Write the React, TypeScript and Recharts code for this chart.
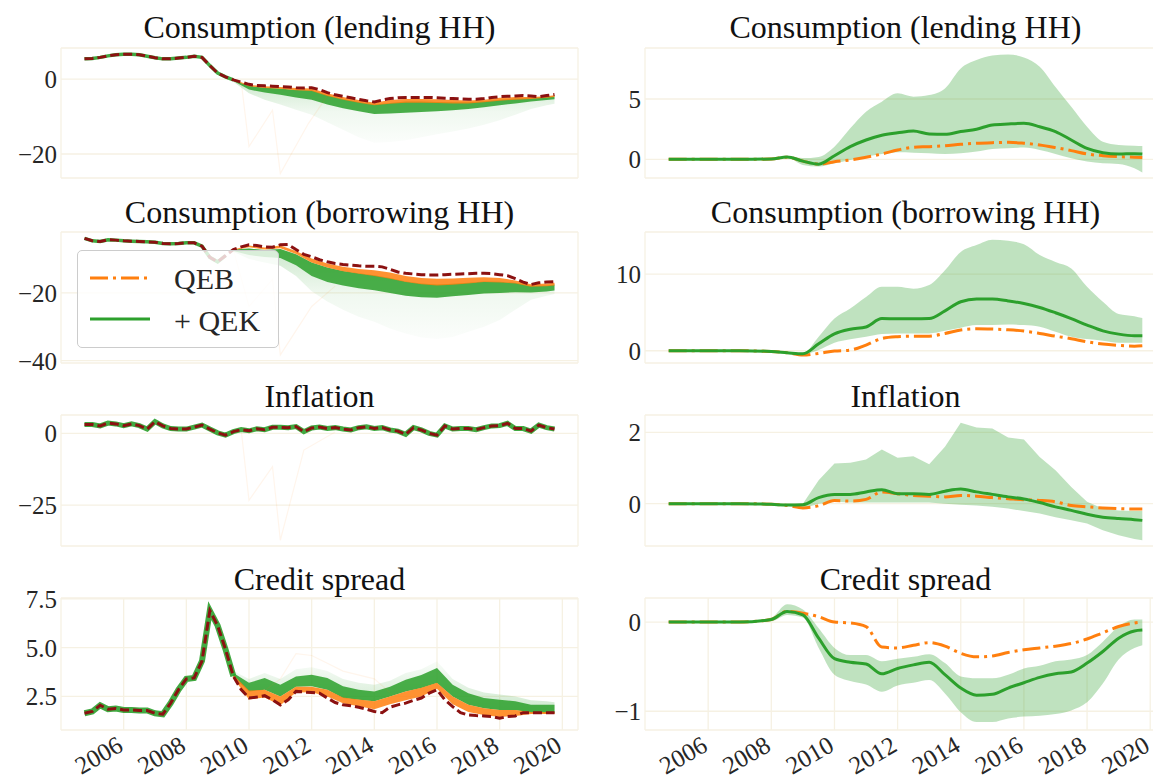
import React from "react"
import { ComposedChart, Line, Area, XAxis, YAxis, CartesianGrid } from "recharts"

const FONT = "'Liberation Serif', 'Times New Roman', serif"
const GREEN = "#2ca02c"
const ORANGE = "#ff7f0e"
const DARKRED = "#8b1111"
const GRID = "#f6f1e3"
const TEXT = "#262626"

// quarterly dates 2004Q4 .. 2019Q4
const quarters = Array.from({ length: 61 }, (_, i) => 2004.75 + i * 0.25)
const yearTicks = [2006, 2008, 2010, 2012, 2014, 2016, 2018, 2020]

// dates where the simulated fans spread out (left column)
const fanYears = [2009.5, 2010, 2010.5, 2011, 2011.5, 2012, 2012.5, 2013, 2013.5, 2014, 2014.5, 2015, 2015.5, 2016, 2016.5, 2017, 2017.5, 2018, 2018.5, 2019, 2019.5, 2019.75]

// dates for the right column (differences)
const rightYears = [2004.75, 2006, 2007, 2008, 2008.5, 2009, 2009.5, 2010, 2010.5, 2011, 2011.5, 2012, 2012.5, 2013, 2013.5, 2014, 2014.5, 2015, 2015.5, 2016, 2016.5, 2017, 2017.5, 2018, 2018.5, 2019, 2019.5, 2019.75]

// ---- left: consumption lending HH
const lendData = [
  5.4,
  5.5, 5.8, 6.2, 6.5,
  6.6, 6.6, 6.5, 6.1,
  5.7, 5.4, 5.4, 5.6,
  5.8, 6.1, 5.8, 3.6,
  1.6, 0.6, -0.2, -0.8,
  -1.4, -1.7, -1.8, -1.9,
  -2.0, -2.1, -2.3, -2.4,
  -2.3, -2.8, -3.6, -4.2,
  -4.6, -5.0, -5.4, -5.8,
  -6.1, -5.6, -5.2, -5.0,
  -4.9, -4.9, -4.9, -4.9,
  -5.0, -5.1, -5.2, -5.3,
  -5.4, -5.4, -5.2, -4.9,
  -4.7, -4.6, -4.5, -4.4,
  -4.5, -4.7, -4.4, -4.1,
]
const lendOrHi = [-0.2, -1.5, -1.9, -2.1, -2.4, -2.5, -3.8, -4.8, -5.6, -6.3, -5.6, -5.3, -5.3, -5.4, -5.6, -5.7, -5.5, -5.0, -4.8, -4.8, -4.6, -4.3]
const lendOrLo = [-0.3, -1.9, -2.4, -2.6, -3.0, -3.2, -4.5, -5.5, -6.3, -7.0, -6.6, -6.3, -6.3, -6.4, -6.5, -6.5, -6.2, -5.8, -5.5, -5.3, -5.0, -4.8]
const lendCoreHi = [-0.3, -1.8, -2.3, -2.5, -2.9, -3.0, -4.3, -5.3, -6.1, -6.8, -6.4, -6.0, -6.0, -6.1, -6.2, -6.2, -5.9, -5.5, -5.2, -5.1, -4.8, -4.6]
const lendCoreLo = [-0.5, -2.8, -3.6, -4.2, -4.9, -5.5, -6.8, -7.8, -8.6, -9.3, -9.2, -9.0, -8.8, -8.6, -8.3, -8.0, -7.5, -7.0, -6.5, -6.0, -5.6, -5.4]
const lendFaintLo = [-0.7, -3.8, -5.5, -6.8, -8.2, -9.5, -11.5, -13.5, -15.5, -17.0, -16.8, -16.3, -15.5, -14.7, -14.0, -13.2, -12.2, -11.0, -9.5, -8.0, -7.0, -6.6]
const lendOutYears = [2009.75, 2010, 2010.75, 2011, 2011.9, 2012.5]
const lendOut = [-0.6, -18, -8.3, -25.2, -11.8, -4.5]

// ---- left: consumption borrowing HH
const borData = [
  -3.9,
  -4.6, -4.8, -4.3, -4.4,
  -4.6, -4.7, -4.8, -4.9,
  -5.0, -5.4, -5.5, -5.4,
  -5.2, -5.2, -6.2, -9.5,
  -10.8, -9.0, -7.2, -6.4,
  -5.8, -6.0, -6.4, -6.5,
  -5.8, -5.7, -7.2, -8.6,
  -9.3, -10.2, -10.8, -11.3,
  -11.6, -11.8, -12.0, -12.1,
  -12.1, -12.3, -13.0, -13.8,
  -14.2, -14.4, -14.6, -14.7,
  -14.7, -14.6, -14.5, -14.4,
  -14.3, -14.2, -14.2, -14.3,
  -14.6, -14.9, -15.8, -16.8,
  -17.5, -17.0, -16.8, -16.7,
]
const borOrHi = [-7.2, -6.0, -6.6, -6.0, -7.6, -9.8, -11.3, -12.3, -12.9, -13.3, -14.0, -15.0, -15.6, -15.8, -15.7, -15.5, -15.4, -15.6, -16.3, -17.4, -17.2, -17.0]
const borOrLo = [-7.4, -6.5, -7.2, -6.8, -8.5, -11.0, -12.5, -13.6, -14.3, -15.0, -15.8, -16.8, -17.4, -17.8, -17.6, -17.2, -16.8, -16.9, -17.2, -18.2, -18.0, -17.8]
const borCoreHi = [-7.2, -6.9, -7.3, -7.0, -8.6, -11.0, -12.5, -13.5, -14.2, -14.8, -15.6, -16.6, -17.2, -17.5, -17.3, -17.0, -16.6, -16.7, -17.0, -17.9, -17.8, -17.5]
const borCoreLo = [-7.6, -8.8, -9.4, -9.7, -11.8, -15.0, -16.8, -17.8, -18.6, -19.2, -20.0, -20.8, -21.3, -21.4, -21.0, -20.6, -20.2, -20.0, -19.8, -19.9, -19.6, -19.3]
const borFaintLo = [-7.8, -10.0, -11.0, -12.0, -15.0, -19.5, -22.5, -25.0, -27.0, -28.5, -30.5, -32.0, -33.2, -33.6, -33.0, -31.5, -30.0, -28.0, -25.0, -22.0, -20.8, -20.3]
const borOutYears = [2009.5, 2010, 2010.75, 2011, 2012, 2012.75]
const borOut = [-7.2, -24, -16, -38.3, -24, -18]

// ---- left: inflation
const infData = [
  3.1,
  3.1, 2.6, 3.6, 3.3,
  2.7, 3.3, 2.7, 1.5,
  4.1, 2.6, 1.7, 1.5,
  1.5, 2.2, 2.9, 1.5,
  0.2, -0.6, 0.6, 1.3,
  0.9, 1.6, 1.3, 2.1,
  2.1, 2.0, 2.4, 0.6,
  1.9, 2.2, 1.7, 2.0,
  1.5, 1.2, 2.0, 2.3,
  1.7, 2.0, 1.2, 0.8,
  -0.3, 2.0, 1.2, 0.0,
  -0.6, 2.6, 1.5, 1.7,
  1.7, 1.3, 2.0, 2.6,
  2.7, 3.5, 1.7, 1.7,
  0.8, 2.9, 2.0, 1.5,
]
const infOutYears = [2009.75, 2010, 2010.75, 2011, 2011.75, 2012.75]
const infOut = [1.3, -23.3, -11.6, -37.2, -5.8, 0.5]

// ---- left: credit spread
const csData = [
  1.64,
  1.73, 2.05, 1.85, 1.88,
  1.81, 1.81, 1.78, 1.78,
  1.64, 1.59, 2.16, 2.85,
  3.4, 3.45, 4.32, 6.9,
  6.13, 4.92, 3.54, 2.85,
  2.42, 2.47, 2.54, 2.33,
  2.07, 2.33, 2.76, 2.73,
  2.7, 2.67, 2.42, 2.19,
  2.07, 2.02, 1.95, 1.85,
  1.73, 1.67, 1.95, 2.07,
  2.16, 2.3, 2.42, 2.67,
  2.85, 2.33, 1.98, 1.67,
  1.55, 1.52, 1.5, 1.47,
  1.38, 1.47, 1.5, 1.67,
  1.67, 1.67, 1.67, 1.67,
]
const csOrHi = [3.6, 2.8, 2.85, 2.5, 3.0, 3.0, 2.85, 2.45, 2.35, 2.25, 2.5, 2.75, 2.95, 3.2, 2.5, 2.07, 1.9, 1.8, 1.8, 1.7, 1.7, 1.7]
const csOrLo = [3.45, 2.35, 2.45, 2.05, 2.7, 2.72, 2.5, 2.15, 2.0, 1.85, 2.1, 2.3, 2.5, 2.9, 2.1, 1.7, 1.55, 1.45, 1.5, 1.6, 1.6, 1.6]
const csCoreHi = [3.7, 3.2, 3.45, 3.1, 3.53, 3.62, 3.45, 3.02, 2.85, 2.76, 3.0, 3.36, 3.6, 3.96, 3.1, 2.67, 2.42, 2.33, 2.25, 2.07, 2.07, 2.07]
const csCoreLo = [3.5, 2.75, 2.85, 2.5, 3.0, 3.02, 2.85, 2.42, 2.33, 2.25, 2.5, 2.76, 2.93, 3.19, 2.5, 2.07, 1.9, 1.81, 1.81, 1.67, 1.64, 1.64]
const csFaintHi = [3.8, 3.4, 3.7, 3.4, 3.9, 4.0, 3.8, 3.4, 3.2, 3.1, 3.3, 3.7, 3.9, 4.3, 3.4, 2.95, 2.7, 2.6, 2.5, 2.3, 2.25, 2.2]
const csOutYears = [2010.5, 2011, 2011.5, 2012, 2012.5, 2013, 2014, 2014.5]
const csOut = [2.8, 3.4, 4.7, 4.6, 4.2, 3.8, 3.4, 2.7]

// ---- right: differences (QEB dash-dot, + QEK solid, band)
const rLendGreen = [0, 0, 0, 0.03, 0.2, -0.15, -0.4, 0.3, 1.05, 1.6, 2.0, 2.2, 2.35, 2.1, 2.07, 2.3, 2.5, 2.85, 2.93, 2.98, 2.7, 2.3, 1.6, 0.9, 0.55, 0.44, 0.47, 0.44]
const rLendOrange = [0, 0, 0, 0.03, 0.18, -0.15, -0.4, -0.2, -0.05, 0.17, 0.44, 0.77, 1.0, 1.05, 1.13, 1.24, 1.33, 1.38, 1.41, 1.33, 1.19, 0.97, 0.72, 0.44, 0.3, 0.22, 0.17, 0.14]
const rLendHi = [0, 0, 0, 0.05, 0.25, 0.1, 0.2, 1.05, 2.57, 3.95, 4.78, 5.47, 5.19, 5.33, 5.88, 7.54, 8.23, 8.6, 8.7, 8.45, 7.68, 6.0, 4.36, 2.7, 1.46, 1.19, 1.13, 1.1]
const rLendLo = [0, 0, 0, 0.02, 0.15, -0.47, -0.6, -0.33, -0.05, 0.22, 0.44, 0.58, 0.55, 0.5, 0.44, 0.5, 0.64, 0.86, 0.91, 0.97, 0.77, 0.44, 0.08, -0.19, -0.33, -0.39, -0.75, -1.1]

const rBorGreen = [0, 0, 0, -0.1, -0.26, -0.4, 0.9, 2.2, 2.8, 3.1, 4.2, 4.17, 4.17, 4.2, 5.2, 6.4, 6.74, 6.74, 6.5, 6.17, 5.65, 4.96, 4.2, 3.35, 2.6, 2.17, 1.96, 1.96]
const rBorOrange = [0, 0, 0, -0.1, -0.26, -0.57, -0.35, -0.04, 0.09, 0.74, 1.6, 1.83, 1.9, 1.9, 2.26, 2.7, 2.87, 2.83, 2.74, 2.57, 2.26, 1.9, 1.57, 1.17, 0.87, 0.7, 0.6, 0.65]
const rBorHi = [0, 0, 0, -0.1, -0.2, -0.35, 1.83, 4.2, 5.5, 7.0, 8.35, 8.35, 8.1, 8.57, 10.5, 12.9, 13.8, 14.5, 14.35, 13.9, 12.5, 11.6, 10.74, 8.35, 6.4, 4.8, 4.5, 4.26]
const rBorLo = [0, 0, 0, -0.1, -0.3, -0.45, 0.09, 1.04, 1.5, 1.83, 2.17, 2.26, 2.26, 2.26, 2.6, 3.0, 3.35, 3.35, 3.43, 3.35, 3.13, 2.48, 1.83, 1.52, 1.3, 1.04, 1.04, 1.04]

const rInfGreen = [0, 0, 0, -0.02, -0.04, -0.03, 0.17, 0.26, 0.26, 0.33, 0.39, 0.28, 0.28, 0.26, 0.35, 0.41, 0.33, 0.26, 0.19, 0.13, 0.03, -0.09, -0.19, -0.3, -0.38, -0.42, -0.45, -0.47]
const rInfOrange = [0, 0, 0, -0.02, -0.05, -0.12, -0.06, 0.09, 0.07, 0.12, 0.33, 0.28, 0.23, 0.21, 0.19, 0.23, 0.21, 0.17, 0.14, 0.11, 0.09, 0.05, -0.05, -0.09, -0.12, -0.14, -0.15, -0.15]
const rInfHi = [0, 0, 0, 0, 0, 0, 0.66, 1.13, 1.15, 1.24, 1.52, 1.29, 1.33, 1.11, 1.6, 2.27, 2.14, 2.11, 1.86, 1.8, 1.31, 0.94, 0.47, 0.05, -0.14, -0.19, -0.21, -0.21]
const rInfLo = [0, 0, 0, -0.02, -0.06, -0.14, 0, 0.05, 0.03, 0.03, 0.03, 0.03, 0.03, 0.03, 0.0, -0.03, -0.05, -0.09, -0.14, -0.21, -0.28, -0.38, -0.47, -0.56, -0.75, -0.89, -0.99, -1.03]

const rCsGreen = [0, 0, 0, 0.03, 0.12, 0.08, -0.18, -0.41, -0.45, -0.47, -0.58, -0.52, -0.48, -0.45, -0.59, -0.74, -0.82, -0.81, -0.74, -0.68, -0.62, -0.58, -0.56, -0.46, -0.33, -0.18, -0.1, -0.09]
const rCsOrange = [0, 0, 0, 0.03, 0.12, 0.1, 0.06, 0, -0.01, -0.05, -0.28, -0.29, -0.26, -0.23, -0.27, -0.35, -0.39, -0.38, -0.34, -0.31, -0.29, -0.27, -0.24, -0.19, -0.12, -0.05, -0.01, 0]
const rCsHi = [0, 0, 0, 0.05, 0.2, 0.14, -0.07, -0.29, -0.37, -0.37, -0.44, -0.41, -0.39, -0.36, -0.46, -0.61, -0.63, -0.63, -0.59, -0.52, -0.49, -0.44, -0.42, -0.37, -0.22, -0.05, 0.03, 0.03]
const rCsLo = [0, 0, 0, 0.01, 0.08, 0.05, -0.29, -0.59, -0.66, -0.7, -0.78, -0.71, -0.68, -0.65, -0.8, -1.01, -1.12, -1.12, -1.08, -1.06, -1.05, -1.03, -0.99, -0.9, -0.69, -0.42, -0.29, -0.26]

const pts = (ts: number[], vs: number[]) => ts.map((t, i) => ({ t, v: vs[i] }))
const band = (ts: number[], lo: number[], hi: number[]) => ts.map((t, i) => ({ t, r: [lo[i], hi[i]] }))
const minus = (v: number) => String(v).replace("-", "\u2212")
const oneDec = (v: number) => v.toFixed(1)

// panel rows: top of plot area and plot height
const rows = [
  { top: 48, h: 130 },
  { top: 232, h: 131 },
  { top: 415, h: 131 },
  { top: 598, h: 132 },
]
const titleTops = [11, 196, 380, 563]
const X_AXIS_H = 48
const PAD = 16 // room above / below the plot so edge tick labels are not clipped
const TICK_FS = 25

function YearTick(props: any) {
  const { x, y, payload } = props
  return (
    <text transform={`translate(${x + 1},${y + 12}) rotate(-30)`} textAnchor="end" fontSize={TICK_FS} fontFamily={FONT} fill={TEXT}>
      {payload.value}
    </text>
  )
}

function Title({ text, left, width, top }: { text: string; left: number; width: number; top: number }) {
  return (
    <div style={{ position: "absolute", left, width, top, textAlign: "center", fontSize: 32, lineHeight: "32px", color: "#111", whiteSpace: "nowrap" }}>
      {text}
    </div>
  )
}

function frame(row: number) {
  const { top, h } = rows[row]
  const last = row === 3
  const height = h + PAD + (last ? X_AXIS_H : PAD)
  return { top: top - PAD, height, margin: { top: PAD, right: 0, bottom: last ? 0 : PAD, left: 0 } }
}

function axes(row: number, domain: number[], ticks: number[], fmt: (v: number) => string) {
  const showX = row === 3
  return [
    <CartesianGrid key="g" stroke={GRID} strokeWidth={1.3} />,
    <XAxis key="x" type="number" dataKey="t" domain={[2004, 2020.5]} ticks={yearTicks} allowDataOverflow interval={0}
      height={showX ? X_AXIS_H : 0} tick={showX ? <YearTick /> : false} axisLine={false} tickLine={false} />,
    <YAxis key="y" type="number" domain={domain} ticks={ticks} allowDataOverflow interval={0} width={61} axisLine={false} tickLine={false}
      tickSize={1} tickMargin={3} tickFormatter={fmt} tick={{ fontSize: TICK_FS, fontFamily: FONT, fill: TEXT }} />,
  ]
}

interface LeftProps {
  row: number
  domain: number[]
  ticks: number[]
  fmt: (v: number) => string
  data: number[]
  preLen: number
  preWidth?: number
  orLo?: number[]
  orHi?: number[]
  coreLo?: number[]
  coreHi?: number[]
  faintLo?: number[]
  faintHi?: number[]
  outYears: number[]
  out: number[]
}

function LeftPanel(p: LeftProps) {
  const f = frame(p.row)
  const id = `p${p.row}`
  return (
    <div style={{ position: "absolute", left: 0, top: f.top, width: 580, height: f.height }}>
      <ComposedChart width={580} height={f.height} margin={{ ...f.margin, right: 2 }}>
        <defs>
          <linearGradient id={`${id}down`} x1="0" y1="0" x2="0" y2="1">
            <stop offset="0" stopColor={GREEN} stopOpacity={0.4} />
            <stop offset="0.5" stopColor={GREEN} stopOpacity={0.12} />
            <stop offset="1" stopColor={GREEN} stopOpacity={0.03} />
          </linearGradient>
          <linearGradient id={`${id}up`} x1="0" y1="1" x2="0" y2="0">
            <stop offset="0" stopColor={GREEN} stopOpacity={0.4} />
            <stop offset="1" stopColor={GREEN} stopOpacity={0.05} />
          </linearGradient>
        </defs>
        {axes(p.row, p.domain, p.ticks, p.fmt)}
        {p.faintLo && p.coreHi && (
          <Area data={band(fanYears, p.faintLo, p.coreHi)} dataKey="r" type="linear" stroke="none" fill={`url(#${id}down)`} isAnimationActive={false} />
        )}
        {p.faintHi && p.coreLo && (
          <Area data={band(fanYears, p.coreLo, p.faintHi)} dataKey="r" type="linear" stroke="none" fill={`url(#${id}up)`} isAnimationActive={false} />
        )}
        {p.coreLo && p.coreHi && (
          <Area data={band(fanYears, p.coreLo, p.coreHi)} dataKey="r" type="linear" stroke="none" fill={GREEN} fillOpacity={0.85} isAnimationActive={false} />
        )}
        {p.orLo && p.orHi && (
          <Area data={band(fanYears, p.orLo, p.orHi)} dataKey="r" type="linear" stroke="none" fill={ORANGE} fillOpacity={0.85} isAnimationActive={false} />
        )}
        <Line data={pts(p.outYears, p.out)} dataKey="v" type="linear" stroke={ORANGE} strokeOpacity={0.08} strokeWidth={1.2} dot={false} activeDot={false} isAnimationActive={false} />
        <Line data={pts(quarters.slice(0, p.preLen), p.data.slice(0, p.preLen))} dataKey="v" type="linear" stroke={GREEN} strokeWidth={p.preWidth ?? 3.5} strokeOpacity={0.9} dot={false} activeDot={false} isAnimationActive={false} />
        <Line data={pts(quarters, p.data)} dataKey="v" type="linear" stroke={DARKRED} strokeWidth={3} strokeDasharray="9 4" dot={false} activeDot={false} isAnimationActive={false} />
      </ComposedChart>
    </div>
  )
}

interface RightProps {
  row: number
  domain: number[]
  ticks: number[]
  green: number[]
  orange: number[]
  lo: number[]
  hi: number[]
  curve: "monotone" | "linear"
}

function RightPanel(p: RightProps) {
  const f = frame(p.row)
  return (
    <div style={{ position: "absolute", left: 584, top: f.top, width: 582, height: f.height }}>
      <ComposedChart width={582} height={f.height} margin={f.margin}>
        {axes(p.row, p.domain, p.ticks, minus)}
        <Area data={band(rightYears, p.lo, p.hi)} dataKey="r" type={p.curve} stroke="none" fill={GREEN} fillOpacity={0.3} isAnimationActive={false} />
        <Line data={pts(rightYears, p.orange)} dataKey="v" type="monotone" stroke={ORANGE} strokeWidth={3} strokeDasharray="18 5 3 5" dot={false} activeDot={false} isAnimationActive={false} />
        <Line data={pts(rightYears, p.green)} dataKey="v" type="monotone" stroke={GREEN} strokeWidth={3} dot={false} activeDot={false} isAnimationActive={false} />
      </ComposedChart>
    </div>
  )
}

function LegendBox() {
  return (
    <div style={{ position: "absolute", left: 77, top: 250, width: 200, height: 96, border: "1px solid #cccccc", borderRadius: 5, background: "rgba(255,255,255,0.8)" }}>
      <svg width={200} height={96}>
        <line x1={12} x2={70} y1={27} y2={27} stroke={ORANGE} strokeWidth={3} strokeDasharray="18 5 3 5" />
        <line x1={12} x2={72} y1={68} y2={68} stroke={GREEN} strokeWidth={3} />
        <text x={96} y={38} fontSize={30} fontFamily={FONT} fill={TEXT}>QEB</text>
        <text x={96} y={80} fontSize={30} fontFamily={FONT} fill={TEXT}>+ QEK</text>
      </svg>
    </div>
  )
}

export default function App() {
  const titles = ["Consumption (lending HH)", "Consumption (borrowing HH)", "Inflation", "Credit spread"]
  return (
    <div style={{ position: "absolute", left: 0, top: 0, width: 1153, height: 778, overflow: "hidden", background: "#fff", fontFamily: FONT }}>
      {titles.map((t, i) => (
        <React.Fragment key={t}>
          <Title text={t} left={61} width={517} top={titleTops[i]} />
          <Title text={t} left={645} width={521} top={titleTops[i]} />
        </React.Fragment>
      ))}

      <LeftPanel row={0} domain={[-26.4, 8.3]} ticks={[-20, 0]} fmt={minus} data={lendData} preLen={20}
        orLo={lendOrLo} orHi={lendOrHi} coreLo={lendCoreLo} coreHi={lendCoreHi} faintLo={lendFaintLo}
        outYears={lendOutYears} out={lendOut} />
      <LeftPanel row={1} domain={[-40.7, -2.0]} ticks={[-40, -20]} fmt={minus} data={borData} preLen={19}
        orLo={borOrLo} orHi={borOrHi} coreLo={borCoreLo} coreHi={borCoreHi} faintLo={borFaintLo}
        outYears={borOutYears} out={borOut} />
      <LeftPanel row={2} domain={[-39.2, 6.4]} ticks={[-25, 0]} fmt={minus} data={infData} preLen={61} preWidth={5}
        outYears={infOutYears} out={infOut} />
      <LeftPanel row={3} domain={[0.78, 7.55]} ticks={[2.5, 5, 7.5]} fmt={oneDec} data={csData} preLen={20} preWidth={6}
        orLo={csOrLo} orHi={csOrHi} coreLo={csCoreLo} coreHi={csCoreHi} faintHi={csFaintHi}
        outYears={csOutYears} out={csOut} />

      <RightPanel row={0} domain={[-1.55, 9.23]} ticks={[0, 5]} green={rLendGreen} orange={rLendOrange} lo={rLendLo} hi={rLendHi} curve="monotone" />
      <RightPanel row={1} domain={[-1.6, 15.5]} ticks={[0, 10]} green={rBorGreen} orange={rBorOrange} lo={rBorLo} hi={rBorHi} curve="monotone" />
      <RightPanel row={2} domain={[-1.19, 2.49]} ticks={[0, 2]} green={rInfGreen} orange={rInfOrange} lo={rInfLo} hi={rInfHi} curve="linear" />
      <RightPanel row={3} domain={[-1.21, 0.27]} ticks={[-1, 0]} green={rCsGreen} orange={rCsOrange} lo={rCsLo} hi={rCsHi} curve="monotone" />

      <LegendBox />
    </div>
  )
}
